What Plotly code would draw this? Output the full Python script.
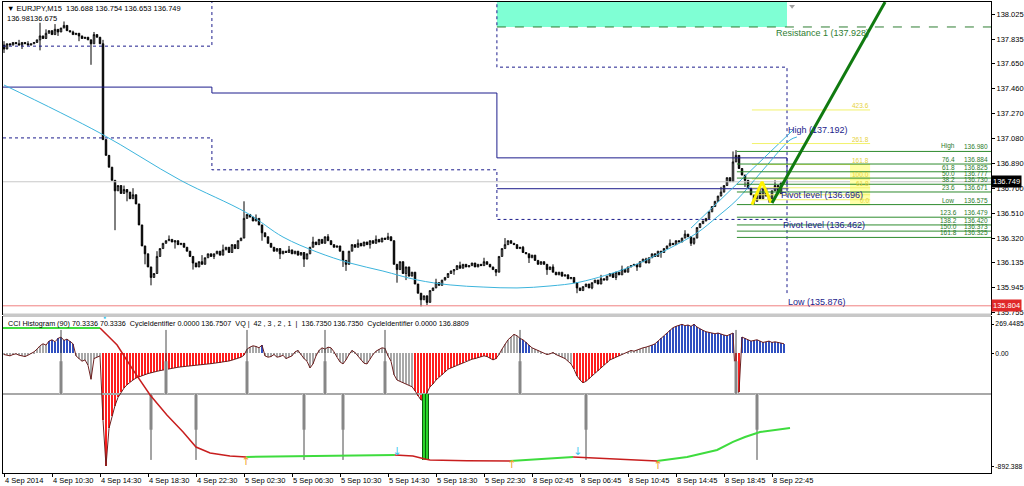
import plotly.graph_objects as go

# ---------------- price data: EURJPY M15, one value per bar ----------------
first_open = 137.79
closes = [
    137.76, 137.80, 137.79, 137.81, 137.80, 137.79, 137.81, 137.80, 137.79, 137.80,
    137.81, 137.83, 137.86, 137.84, 137.88, 137.90, 137.87, 137.91, 137.89, 137.92,
    137.94, 137.90, 137.89, 137.87, 137.88, 137.86, 137.84, 137.85, 137.83, 137.80,
    137.87, 137.85, 137.80, 137.07, 136.95, 136.86, 136.76, 136.68, 136.72, 136.66,
    136.69, 136.67, 136.62, 136.65, 136.58, 136.42, 136.26, 136.20, 136.10, 136.02,
    136.05, 136.18, 136.24, 136.28, 136.30, 136.31, 136.29, 136.30, 136.27, 136.28,
    136.25, 136.22, 136.18, 136.13, 136.10, 136.14, 136.12, 136.17, 136.20, 136.18,
    136.20, 136.22, 136.19, 136.23, 136.25, 136.21, 136.27, 136.24, 136.30, 136.32,
    136.47, 136.50, 136.48, 136.45, 136.47, 136.42, 136.36, 136.33, 136.28, 136.25,
    136.22, 136.24, 136.20, 136.22, 136.21, 136.23, 136.20, 136.22, 136.19, 136.21,
    136.16, 136.20, 136.25, 136.29, 136.27, 136.31, 136.28, 136.33, 136.30, 136.27,
    136.25, 136.26, 136.22, 136.15, 136.12, 136.22, 136.27, 136.25, 136.28, 136.26,
    136.29, 136.27, 136.30, 136.28, 136.31, 136.29, 136.32, 136.31, 136.33, 136.30,
    136.12, 136.08, 136.14, 136.05, 136.10, 136.03, 136.06, 135.97, 135.90, 135.85,
    135.88, 135.83, 135.92, 135.94, 135.98, 135.96, 136.00, 136.02, 136.05, 136.07,
    136.08, 136.11, 136.09, 136.12, 136.10, 136.11, 136.13, 136.10, 136.12, 136.11,
    136.14, 136.12, 136.10, 136.08, 136.06, 136.18, 136.24, 136.27, 136.30, 136.28,
    136.27, 136.24, 136.25, 136.21, 136.20, 136.17, 136.19, 136.15, 136.12, 136.14,
    136.12, 136.08, 136.10, 136.06, 136.04, 136.06, 136.03, 136.04, 136.01, 136.02,
    135.98, 135.94, 135.92, 135.95, 135.97, 135.94, 135.98, 136.00, 135.97, 136.01,
    136.00, 136.03, 136.05, 136.02, 136.06, 136.04, 136.08, 136.06, 136.10, 136.11,
    136.12, 136.10, 136.14, 136.16, 136.13, 136.17, 136.20, 136.18, 136.22, 136.21,
    136.24, 136.26, 136.28, 136.27, 136.30, 136.29, 136.32, 136.35, 136.33, 136.28,
    136.32, 136.40, 136.43, 136.45, 136.47, 136.52, 136.56, 136.60, 136.64, 136.67,
    136.72, 136.78, 136.75, 136.90, 136.95, 136.85, 136.80, 136.76, 136.70, 136.65,
    136.60, 136.66, 136.62, 136.70, 136.64, 136.61, 136.68, 136.72, 136.66, 136.74, 136.749,
]
hi_wicks = {0: 137.82, 5: 137.83, 8: 137.82, 12: 137.96, 14: 137.91, 17: 137.95, 20: 137.97, 23: 137.90,
            30: 137.89, 33: 137.83, 40: 136.72, 43: 136.70, 51: 136.22, 55: 136.34, 66: 136.19, 73: 136.27,
            80: 136.60, 84: 136.50, 95: 136.26, 103: 136.33, 108: 136.35, 118: 136.31, 124: 136.34,
            128: 136.36, 144: 136.01, 152: 136.14, 160: 136.17, 167: 136.32, 173: 136.26, 183: 136.12,
            199: 136.04, 206: 136.11, 214: 136.17, 222: 136.31, 227: 136.38, 239: 136.71, 243: 136.98,
            244: 136.99, 252: 136.72, 257: 136.76}
lo_wicks = {0: 137.73, 6: 137.76, 12: 137.75, 18: 137.86, 25: 137.82, 29: 137.64, 37: 136.38, 41: 136.60,
            47: 136.12, 49: 135.96, 57: 136.24, 63: 136.08, 70: 136.16, 86: 136.30, 92: 136.16,
            100: 136.10, 113: 136.10, 114: 136.07, 122: 136.24, 131: 135.98, 134: 136.00, 139: 135.80,
            141: 135.81, 150: 136.04, 164: 136.03, 175: 136.13, 181: 136.04, 191: 135.90, 196: 135.93,
            204: 136.00, 211: 136.07, 219: 136.17, 229: 136.26, 230: 136.27, 247: 136.71, 250: 136.575,
            255: 136.59}

bid_price = 136.749
red_line_price = 135.804

price_ticks = [138.025, 137.835, 137.650, 137.460, 137.270, 137.080, 136.890,
               136.700, 136.510, 136.320, 136.135, 135.945, 135.755]
time_tick_bars = [0, 16, 32, 48, 64, 80, 96, 112, 128, 144, 160, 176, 192, 208, 224, 240, 256]
time_labels = ["4 Sep 2014", "4 Sep 10:30", "4 Sep 14:30", "4 Sep 18:30", "4 Sep 22:30",
               "5 Sep 02:30", "5 Sep 06:30", "5 Sep 10:30", "5 Sep 14:30", "5 Sep 18:30",
               "5 Sep 22:30", "8 Sep 02:45", "8 Sep 06:45", "8 Sep 10:45", "8 Sep 14:45",
               "8 Sep 18:45", "8 Sep 22:45"]

# ---------------- daily pivot indicator ----------------
day_bounds = [-0.33, 69.3, 164.3, 261.0]
upper_dotted = [137.782, 138.300, 137.622]
lower_dotted = [137.083, 136.840, 136.462]
pivot_solid = [137.470, 137.425, 136.931]
today_pivot = 136.696
resistance1 = 137.928
day_high = 137.192
day_low = 135.876

# ---------------- regression curve ----------------
curve_bar = [0, 32, 58.7, 81, 93, 104.3, 115.3, 126.3, 137.7, 148.7, 159.7, 171, 182, 192,
             208.7, 222, 231, 237.7, 244.3, 253, 262, 264.3]
curve_price = [137.486, 137.120, 136.762, 136.511, 136.328, 136.214, 136.130, 136.069, 136.001,
               135.963, 135.947, 135.940, 135.955, 135.985, 136.100, 136.244, 136.359, 136.481,
               136.611, 136.839, 137.067, 137.090]
curve2_bar = [229, 263]
curve2_price = [136.396, 137.143]

# ---------------- trend line / zigzag ----------------
trend_bar = [256, 293.7]
trend_price = [136.587, 138.118]
zigzag_bar = [249.3, 252.7, 255.7]
zigzag_price = [136.574, 136.749, 136.589]

# ---------------- fibonacci levels ----------------
fib_names = ["High", "76.4", "61.8", "50.0", "38.2", "23.6", "Low", "123.6", "138.2", "150.0", "161.8"]
fib_prices = [136.980, 136.884, 136.825, 136.777, 136.730, 136.671, 136.575, 136.479, 136.420, 136.373, 136.325]
yfib_names = ["423.6", "261.8", "161.8", "100.0", "61.8", "", "", "0.0"]
yfib_prices = [137.296, 137.040, 136.880, 136.770, 136.703, 136.650, 136.612, 136.574]

# ---------------- indicator: CCI histogram (one value per bar) ----------------
cci = [
    -10, -15, -20, -10, -5, -15, -20, -25, -15, -5,
    10, 30, 55, 70, 60,
    90, 100, 85, 110, 120, 95, 105, 90, 70,
    -20, -40, -60, -50, -90, -195,
    -40, -30, -20,
    -500, -840,
    -560, -470, -390, -330, -290, -260, -235, -215, -200, -185, -175,
    -168, -160, -152, -145,
    -140, -135, -130, -125, -120, -115, -112, -108, -105, -102,
    -100, -97, -95, -92, -90, -88, -85, -82, -80, -78,
    -75, -72, -70, -66, -62, -58, -52, -45, -38, -30,
    -15,
    30, 45, 55, 50, 40, 60,
    -20, -30, -25, -10, -30, -25, -15, -40, -30, -20, 10, 20, -10, -40, -60, -110, -80, -20, 20, 40,
    30, 45, 40, 10, -30, -65, -80, -50, -10, 20, 5, -20, -50, -75, -80, -40, -10, 15, 30, 40, 35,
    -20, -60, -160, -200, -210, -220, -230, -240, -250,
    -280, -320, -350, -340, -300, -250,
    -230, -200, -180, -160, -140, -120, -110, -100, -90, -80, -70, -60, -50, -45, -40, -35, -30, -20, -25, -35, -50, -40,
    -10, 30, 70, 100, 120, 140, 130,
    110, 100, 80, 60,
    40, 30, 20, 10, 0, -10, -5, 5, -10, -20, -30, -40, -60, -80,
    -120, -170, -200, -220, -210, -190, -170, -150, -130, -110, -90, -70, -50, -40, -30, -20,
    -10, 0, 10, 20, 15, 25, 30, 40, 45, 50,
    60, 70, 90, 110, 130, 150, 170, 190, 200, 210, 215, 205, 210, 200, 215, 195, 180, 170, 160, 155,
    150, 145, 150, 140, 135, 130, 140, 150,
    -290, -290,
    120, 110, 100, 90, 95, 100, 90, 80, 85, 90, 80, 85, 80, 75, 70,
]
cci_blue_ranges = [(15, 23), (86, 86), (172, 175), (216, 243), (246, 260)]
cci_red_ranges = [(33, 80), (137, 164), (190, 205), (244, 245)]

# cycle identifier
cycle_base = -304
spike_up_bars = [19, 54, 81, 107, 127, 172, 244]
spike_up_top = 173
spike_down_bars = [49, 64, 100, 113, 194, 251]
spike_down_bottom = -795
green_bars = [140, 141]

# slow cycle line, coloured segments (bar, value)
slow_segments = [
    ("green", [-0.33, 32], [188, 188]),
    ("red", [32, 37.7, 43, 48.7, 54.3, 59.7, 64, 68.7, 75.3, 80.7],
     [188, 61, -125, -311, -460, -587, -699, -743, -766, -773]),
    ("green", [80.7, 105, 130.3], [-773, -768, -758]),
    ("red", [130.3, 136.3, 140.3, 142, 154.3, 168.7], [-758, -766, -788, -795, -801, -803]),
    ("green", [168.7, 189.7], [-803, -773]),
    ("red", [189.7, 200, 217.7], [-773, -785, -803]),
    ("green", [217.7, 227.7, 237.7, 243, 247, 252, 262], [-803, -773, -721, -661, -624, -587, -557]),
]
cyan_arrow_bars = [131, 191.3]
cyan_arrow_vals = [-736, -736]
orange_arrow_bars = [80.7, 169.3, 218]
orange_arrow_vals = [-815, -833, -840]

# ---------------- build ----------------
bars = list(range(len(closes)))
opens = [first_open] + closes[:-1]
highs = [max(o, c) for o, c in zip(opens, closes)]
lows = [min(o, c) for o, c in zip(opens, closes)]
for k, v in hi_wicks.items():
    highs[k] = max(highs[k], v)
for k, v in lo_wicks.items():
    lows[k] = min(lows[k], v)

X_RANGE = [-1 / 3, 329]
Y_RANGE = [135.7454, 138.1183]
Y2_RANGE = [-892.388, 269.4485]
FONT = "Liberation Sans, Arial, sans-serif"
NAVY = "#1C1C8C"

fig = go.Figure()


def add_line(x, y, color, width=1, dash="solid", xa="x", ya="y", shape="linear"):
    fig.add_trace(go.Scatter(x=x, y=y, mode="lines", line=dict(color=color, width=width, dash=dash, shape=shape),
                             xaxis=xa, yaxis=ya, hoverinfo="skip", showlegend=False))


# aquamarine resistance box
fig.add_trace(go.Scatter(x=[day_bounds[2], day_bounds[3], day_bounds[3], day_bounds[2], day_bounds[2]],
                         y=[resistance1, resistance1, Y_RANGE[1], Y_RANGE[1], resistance1],
                         fill="toself", fillcolor="#7FFFD4", mode="lines", line=dict(width=0),
                         hoverinfo="skip", showlegend=False))
fig.add_trace(go.Scatter(x=[262.7], y=[138.085], mode="markers",
                         marker=dict(symbol="triangle-down", size=5, color="#A0A0A0"),
                         hoverinfo="skip", showlegend=False))

# bid / red price lines
add_line(X_RANGE, [bid_price, bid_price], "#C8C8C8")
add_line(X_RANGE, [red_line_price, red_line_price], "#F08080")


# pivot step lines
def step_path(levels, end_extra=None):
    xs, ys = [], []
    for d, lv in enumerate(levels):
        xs += [day_bounds[d], day_bounds[d + 1]]
        ys += [lv, lv]
    if end_extra is not None:
        xs.append(day_bounds[-1])
        ys.append(end_extra)
    return xs, ys


xs, ys = step_path(upper_dotted, day_low + 0.025)
add_line(xs, ys, NAVY, 1, "dot")
xs, ys = step_path(lower_dotted)
add_line(xs, ys, NAVY, 1, "dot")
xs, ys = step_path(pivot_solid, today_pivot)
add_line(xs, ys, NAVY, 1)
add_line([day_bounds[2], day_bounds[3] + 0.5], [today_pivot, today_pivot], NAVY, 1)

# resistance 1
add_line([day_bounds[2], X_RANGE[1]], [resistance1, resistance1], "#2E7D32", 1, "dash")

# regression curves
add_line(curve_bar, curve_price, "#3CB4DC", 1, shape="spline")
add_line(curve2_bar, curve2_price, "#3CB4DC", 1)

# yellow fib
yx, yy = [], []
for p in yfib_prices:
    yx += [249.3, 288.7, None]
    yy += [p, p, None]
fig.add_trace(go.Scatter(x=[282, 288.7, 288.7, 282, 282],
                         y=[yfib_prices[-1], yfib_prices[-1], yfib_prices[2], yfib_prices[2], yfib_prices[-1]],
                         fill="toself", fillcolor="#FFFFA8", mode="lines", line=dict(width=0),
                         hoverinfo="skip", showlegend=False))
add_line(yx, yy, "#F2F26A", 1)

# green fib
gx, gy = [], []
for p in fib_prices:
    gx += [244.3, X_RANGE[1], None]
    gy += [p, p, None]
add_line(gx, gy, "#2E8B2E", 1)

# candles
fig.add_trace(go.Candlestick(
    x=bars, open=opens, high=highs, low=lows, close=closes,
    increasing=dict(line=dict(color="black", width=1), fillcolor="white"),
    decreasing=dict(line=dict(color="black", width=1), fillcolor="black"),
    whiskerwidth=0, xaxis="x", yaxis="y", hoverinfo="skip", showlegend=False))

# zigzag + trend line
add_line(zigzag_bar, zigzag_price, "#FFF200", 3)
add_line(trend_bar, trend_price, "#107A10", 3)


# ---------------- indicator panel ----------------
def cci_color(i):
    for a, b in cci_red_ranges:
        if a <= i <= b:
            return "#FF1E1E"
    for a, b in cci_blue_ranges:
        if a <= i <= b:
            return "#2F4FC0"
    return "#A8A8A8"


add_line(X_RANGE, [cycle_base, cycle_base], "#A8A8A8", 2, xa="x2", ya="y2")

fig.add_trace(go.Bar(x=bars, y=cci, width=0.6, marker=dict(color=[cci_color(i) for i in bars], line=dict(width=0)),
                     xaxis="x2", yaxis="y2", hoverinfo="skip", showlegend=False))
add_line(bars, cci, "#6E2020", 1, xa="x2", ya="y2")

ux_glow, uy_glow, ux, uy = [], [], [], []
for b in spike_up_bars:
    ux_glow += [b, b, None]; uy_glow += [cycle_base, -60, None]
    ux += [b, b, None]; uy += [cycle_base, spike_up_top, None]
for b in spike_down_bars:
    ux_glow += [b, b, None]; uy_glow += [cycle_base, -570, None]
    ux += [b, b, None]; uy += [cycle_base, spike_down_bottom, None]
add_line(ux_glow, uy_glow, "#C4C4C4", 4, xa="x2", ya="y2")
add_line(ux, uy, "#4A4A4A", 1, xa="x2", ya="y2")

gbx, gby = [], []
for b in green_bars:
    gbx += [b, b, None]; gby += [cycle_base, spike_down_bottom, None]
add_line(gbx, gby, "#0B5E0B", 4, xa="x2", ya="y2")
add_line(gbx, gby, "#2BD62B", 2, xa="x2", ya="y2")

for col, sx, sy in slow_segments:
    add_line(sx, sy, "#3EDC3E" if col == "green" else "#C81E1E", 2 if col == "green" else 1.5, xa="x2", ya="y2")

fig.add_trace(go.Scatter(x=cyan_arrow_bars, y=cyan_arrow_vals, mode="text", text=["↓"] * len(cyan_arrow_bars),
                         textfont=dict(color="#3EC8F0", size=11, family="DejaVu Sans"), xaxis="x2", yaxis="y2",
                         hoverinfo="skip", showlegend=False))
fig.add_trace(go.Scatter(x=orange_arrow_bars, y=orange_arrow_vals, mode="text", text=["↑"] * len(orange_arrow_bars),
                         textfont=dict(color="#F0A030", size=11, family="DejaVu Sans"), xaxis="x2", yaxis="y2",
                         hoverinfo="skip", showlegend=False))

# ---------------- annotations ----------------
ann = []
PLOT_W, PLOT_H, PL, PT = 988, 471, 3, 2


def px_ann(px, py, text, size=7.5, color="black", **kw):
    ann.append(dict(xref="paper", yref="paper", x=(px - PL) / PLOT_W, y=(PT + PLOT_H - py) / PLOT_H,
                    text=text, showarrow=False, xanchor="left", yanchor="middle",
                    font=dict(family=FONT, size=size, color=color), **kw))


px_ann(5, 9, "▼ EURJPY,M15  136.688 136.754 136.653 136.749")
px_ann(5, 19, "136.98136.675")
px_ann(6, 323, "CCI Histogram (90) 70.3336 70.3336  CycleIdentifier 0.0000 136.7507  VQ |  42 , 3 , 2 , 1  |  "
               "136.7350 136.7350  CycleIdentifier 0.0000 136.8809", size=7.2)
px_ann(101, 317, "●", size=5, color="#3EC8F0")


def data_ann(x, y, text, color, size=9, xanchor="left", yanchor="top"):
    ann.append(dict(xref="x", yref="y", x=x, y=y, text=text, showarrow=False, xanchor=xanchor, yanchor=yanchor,
                    font=dict(family=FONT, size=size, color=color), borderpad=0))


data_ann(257, resistance1, "Resistance 1 (%.3f)" % resistance1, "#2E7D32")
data_ann(261, day_high, "High (%.3f)" % day_high, NAVY)
data_ann(258.7, today_pivot, "Pivot level (%.3f)" % today_pivot, NAVY)
data_ann(259.3, lower_dotted[2], "Pivot level (%.3f)" % lower_dotted[2], NAVY)
data_ann(261, day_low, "Low (%.3f)" % day_low, NAVY)

for n, p in zip(fib_names, fib_prices):
    data_ann(314.7, p, n, "#2A7A2A", size=6.5, xanchor="center", yanchor="bottom")
    data_ann(328.3, p, "%.3f" % p, "#2A7A2A", size=6.5, xanchor="right", yanchor="bottom")
for n, p in zip(yfib_names, yfib_prices):
    if n:
        data_ann(288.7, p, n, "#E6D23C", size=6.5, xanchor="right", yanchor="bottom")

for price, bg in [(bid_price, "black"), (red_line_price, "#E02828")]:
    ann.append(dict(xref="paper", yref="y", x=1.0, y=price, text="%.3f" % price, showarrow=False,
                    xanchor="left", yanchor="middle", bgcolor=bg, borderpad=1,
                    font=dict(family=FONT, size=7.5, color="white")))

axis_font = dict(family=FONT, size=7.5, color="black")
main_dom = [(PT + PLOT_H - 313.5) / PLOT_H, 1]
ind_dom = [0, (PT + PLOT_H - 317) / PLOT_H]

fig.update_layout(
    width=1024, height=486, margin=dict(l=PL, r=1024 - PL - PLOT_W, t=PT, b=486 - PT - PLOT_H, autoexpand=False),
    paper_bgcolor="white", plot_bgcolor="white", showlegend=False, hovermode=False, bargap=0,
    annotations=ann,
    shapes=[dict(type="rect", xref="paper", yref="paper", x0=0, x1=1, y0=ind_dom[1], y1=main_dom[0],
                 fillcolor="#C8C8C8", line=dict(width=0), layer="above")],
    xaxis=dict(domain=[0, 1], range=X_RANGE, anchor="y", showticklabels=False, ticks="", showgrid=False,
               zeroline=False, showline=True, mirror=True, linecolor="black", linewidth=1,
               rangeslider=dict(visible=False), automargin=False),
    yaxis=dict(domain=main_dom, range=Y_RANGE, side="right", anchor="x", tickmode="array", tickvals=price_ticks,
               ticktext=["%.3f" % v for v in price_ticks], ticks="outside", ticklen=3, tickcolor="black",
               showgrid=False, zeroline=False, showline=True, mirror=True, linecolor="black",
               tickfont=axis_font, automargin=False),
    xaxis2=dict(domain=[0, 1], range=X_RANGE, anchor="y2", tickmode="array", tickvals=time_tick_bars,
                ticktext=time_labels, ticks="outside", ticklen=3, tickcolor="black", tickangle=0,
                ticklabelposition="outside right", showgrid=False, zeroline=False, showline=True, mirror=True,
                linecolor="black", tickfont=axis_font, automargin=False),
    yaxis2=dict(domain=ind_dom, range=Y2_RANGE, side="right", anchor="x2", tickmode="array",
                tickvals=[217, 0, -845], ticktext=["269.4485", "0.00", "-892.388"], ticks="outside", ticklen=2,
                tickcolor="black", showgrid=False, zeroline=False, showline=True, mirror=True, linecolor="black",
                tickfont=dict(family=FONT, size=6.8, color="black"), automargin=False),
)

fig.write_html("out.html", config={"displayModeBar": False},
               post_script="document.body.style.margin='0px';document.body.style.overflow='hidden';")
